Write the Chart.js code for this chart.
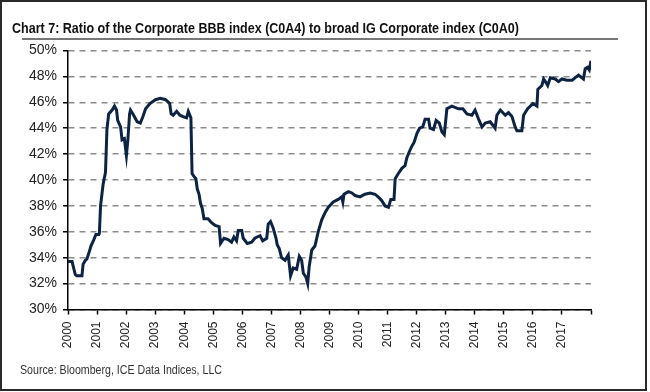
<!DOCTYPE html>
<html>
<head>
<meta charset="utf-8">
<script src="https://cdn.jsdelivr.net/npm/chart.js@4"></script>
<style>
  html, body { margin: 0; padding: 0; background: #fff; }
</style>
</head>
<body>
<canvas id="myChart" width="650" height="392"></canvas>
<script>
const ctx = document.getElementById('myChart');

const titleText = 'Chart 7: Ratio of the Corporate BBB index (C0A4) to broad IG Corporate index (C0A0)';
const sourceText = 'Source: Bloomberg, ICE Data Indices, LLC';

// decimal years
const dates = [
  2000.00, 2000.14, 2000.25, 2000.30, 2000.48, 2000.52, 2000.60, 2000.65, 2000.71, 2000.79,
  2000.89, 2000.96, 2001.06, 2001.08, 2001.12, 2001.21, 2001.29, 2001.34, 2001.40, 2001.52,
  2001.60, 2001.67, 2001.71, 2001.81, 2001.86, 2001.94, 2002.01, 2002.06, 2002.12, 2002.15,
  2002.26, 2002.38, 2002.49, 2002.58, 2002.67, 2002.82, 2003.01, 2003.18, 2003.36, 2003.50,
  2003.55, 2003.62, 2003.74, 2003.85, 2003.96, 2004.08, 2004.14, 2004.23, 2004.27, 2004.33,
  2004.40, 2004.45, 2004.51, 2004.56, 2004.62, 2004.68, 2004.82, 2004.94, 2005.06, 2005.20,
  2005.25, 2005.37, 2005.51, 2005.63, 2005.71, 2005.80, 2005.86, 2005.98, 2006.03, 2006.17,
  2006.32, 2006.43, 2006.51, 2006.61, 2006.70, 2006.84, 2006.89, 2006.97, 2007.06, 2007.16,
  2007.20, 2007.27, 2007.35, 2007.47, 2007.58, 2007.66, 2007.75, 2007.87, 2007.96, 2008.04,
  2008.10, 2008.19, 2008.25, 2008.30, 2008.39, 2008.50, 2008.61, 2008.73, 2008.85, 2008.96,
  2009.13, 2009.30, 2009.42, 2009.46, 2009.50, 2009.65, 2009.77, 2009.88, 2010.05, 2010.22,
  2010.40, 2010.57, 2010.72, 2010.80, 2010.91, 2011.03, 2011.11, 2011.22, 2011.26, 2011.37,
  2011.49, 2011.60, 2011.66, 2011.75, 2011.83, 2011.91, 2012.01, 2012.10, 2012.21, 2012.29,
  2012.41, 2012.46, 2012.58, 2012.67, 2012.78, 2012.87, 2012.95, 2013.04, 2013.21, 2013.44,
  2013.59, 2013.73, 2013.90, 2014.01, 2014.13, 2014.25, 2014.36, 2014.53, 2014.70, 2014.76,
  2014.88, 2015.05, 2015.16, 2015.28, 2015.39, 2015.45, 2015.62, 2015.68, 2015.82, 2016.00,
  2016.14, 2016.17, 2016.31, 2016.37, 2016.46, 2016.51, 2016.60, 2016.77, 2016.88, 2017.00,
  2017.17, 2017.35, 2017.46, 2017.57, 2017.74, 2017.80, 2017.88, 2017.94, 2018.00
];

const ratio = [
  33.7, 33.7, 32.7, 32.6, 32.6, 33.5, 33.8, 33.9, 34.3, 34.9,
  35.4, 35.8, 35.8, 35.9, 38.0, 39.7, 40.6, 43.9, 45.1, 45.4,
  45.7, 45.4, 44.6, 44.1, 43.1, 43.2, 41.9, 43.1, 45.1, 45.4,
  45.0, 44.5, 44.4, 44.9, 45.5, 45.9, 46.2, 46.3, 46.2, 45.9,
  45.1, 45.0, 45.3, 45.0, 44.9, 44.8, 45.3, 44.8, 40.5, 40.3,
  40.1, 39.3, 38.9, 38.2, 37.8, 37.0, 37.0, 36.7, 36.5, 36.4,
  35.1, 35.5, 35.4, 35.2, 35.6, 35.3, 36.1, 36.1, 35.5, 35.1,
  35.2, 35.5, 35.6, 35.7, 35.3, 35.5, 36.6, 36.8, 36.3, 35.5,
  35.0, 34.7, 34.0, 33.8, 34.2, 32.6, 33.2, 33.1, 34.1, 33.8,
  32.8, 32.5, 32.0, 33.3, 34.6, 34.9, 36.0, 36.9, 37.5, 37.9,
  38.3, 38.5, 38.7, 38.3, 38.9, 39.1, 39.0, 38.8, 38.7, 38.9,
  39.0, 38.9, 38.6, 38.4, 38.0, 37.9, 38.5, 38.5, 40.1, 40.5,
  40.9, 41.1, 41.7, 42.2, 42.6, 42.9, 43.6, 44.0, 44.1, 44.7,
  44.7, 44.0, 43.9, 44.6, 44.4, 43.7, 43.5, 45.5, 45.7, 45.5,
  45.5, 45.1, 45.0, 45.4, 44.7, 44.1, 44.4, 44.5, 44.0, 45.0,
  45.4, 45.0, 45.2, 44.9, 44.1, 43.8, 43.8, 45.0, 45.5, 45.9,
  45.7, 47.0, 47.3, 47.8, 47.5, 47.3, 47.9, 47.8, 47.6, 47.8,
  47.7, 47.7, 47.9, 48.1, 47.8, 48.6, 48.7, 48.5, 49.2
];

const yearLabels = ['2000', '2001', '2002', '2003', '2004', '2005', '2006', '2007', '2008',
  '2009', '2010', '2011', '2012', '2013', '2014', '2015', '2016', '2017'];
const pctLabels = ['30%', '32%', '34%', '36%', '38%', '40%', '42%', '44%', '46%', '48%', '50%'];

const narrow = '"Liberation Sans Narrow", "Liberation Sans", Arial, sans-serif';

// title, underline, source and the outer frame
const decor = {
  id: 'decor',
  afterDraw(chart) {
    const c = chart.ctx;
    c.save();
    c.strokeStyle = '#2a2a2a';
    c.lineWidth = 2;
    c.strokeRect(1, 1, 645, 389);

    c.fillStyle = '#111';
    c.font = 'bold 15px ' + narrow;
    c.textBaseline = 'alphabetic';
    c.fillText(titleText, 12, 33, 507);

    c.strokeStyle = '#777';
    c.lineWidth = 2;
    c.beginPath();
    c.moveTo(22, 39);
    c.lineTo(618, 39);
    c.stroke();

    c.fillStyle = '#333';
    c.font = '12px ' + narrow;
    c.fillText(sourceText, 20, 374, 202);
    c.restore();
  }
};

const myChart = new Chart(ctx, {
  type: 'line',
  data: {
    datasets: [{
      data: dates.map((d, i) => ({ x: d, y: ratio[i] })),
      borderColor: '#0e2242',
      borderWidth: 3,
      pointRadius: 0,
      tension: 0,
      fill: false
    }]
  },
  options: {
    responsive: false,
    animation: false,
    devicePixelRatio: 1,
    layout: { padding: { top: 50.5, right: 59, left: 0, bottom: 0 } },
    plugins: { legend: { display: false }, tooltip: { enabled: false } },
    scales: {
      x: {
        type: 'linear',
        min: 2000,
        max: 2018,
        afterFit: (scale) => { scale.height = 82.5; },
        grid: { drawOnChartArea: false, tickLength: 5, tickColor: '#000', tickWidth: 1.5 },
        border: { color: '#000', width: 1.5 },
        ticks: {
          stepSize: 1,
          autoSkip: false,
          minRotation: 90,
          maxRotation: 90,
          padding: 7,
          color: '#222',
          font: { family: '"Liberation Sans", Arial, sans-serif', size: 12 },
          callback: (v, i) => yearLabels[i] || ''
        }
      },
      y: {
        min: 30,
        max: 50,
        afterFit: (scale) => { scale.width = 68; },
        grid: { color: '#8c8c8c', lineWidth: 1.5, tickLength: 5, tickColor: '#000', tickWidth: 1.5 },
        border: { color: '#000', width: 1.5, dash: [6, 5] },
        ticks: {
          stepSize: 2,
          padding: 6,
          color: '#222',
          font: { family: narrow, size: 14 },
          callback: (v, i) => pctLabels[i]
        }
      }
    }
  },
  plugins: [decor]
});
</script>
</body>
</html>
